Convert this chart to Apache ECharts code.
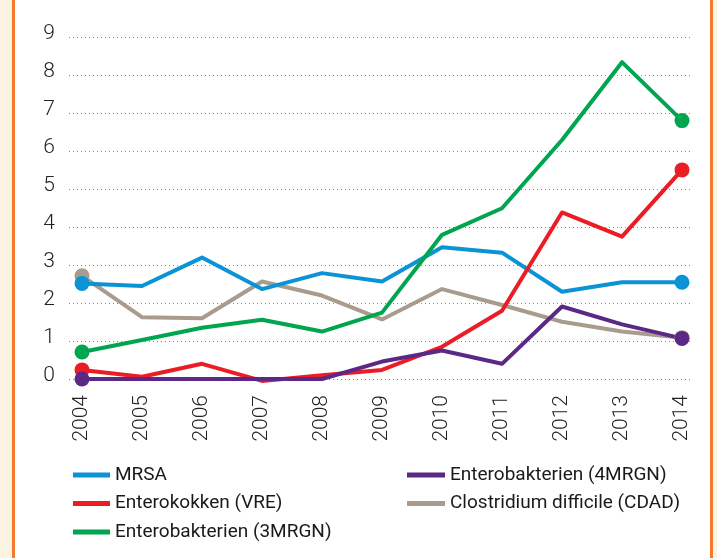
<!DOCTYPE html>
<html>
<head>
<meta charset="utf-8">
<script src="https://cdn.jsdelivr.net/npm/echarts@6/dist/echarts.min.js"></script>
<style>
html,body{margin:0;padding:0;background:#fff;}
#chart{width:717px;height:558px;}
</style>
</head>
<body>
<div id="chart"></div>
<script>
const years = ['2004','2005','2006','2007','2008','2009','2010','2011','2012','2013','2014'];
const mrsa  = [2.52, 2.45, 3.20, 2.37, 2.79, 2.57, 3.47, 3.33, 2.30, 2.55, 2.55];
const vre   = [0.24, 0.06, 0.40, -0.05, 0.10, 0.24, 0.85, 1.80, 4.39, 3.75, 5.51];
const mrgn3 = [0.71, 1.03, 1.35, 1.56, 1.25, 1.75, 3.80, 4.50, 6.30, 8.35, 6.81];
const mrgn4 = [0, 0, 0, 0, 0, 0.46, 0.75, 0.40, 1.91, 1.44, 1.07];
const cdad  = [2.72, 1.63, 1.60, 2.57, 2.20, 1.57, 2.37, 1.95, 1.51, 1.25, 1.09];
const yMin = 0, yMax = 9, yStep = 1;

const names = ['MRSA','Enterokokken (VRE)','Enterobakterien (3MRGN)','Enterobakterien (4MRGN)','Clostridium difficile (CDAD)'];
const colors = {
  'MRSA':'#0a93d5',
  'Enterokokken (VRE)':'#ec1c24',
  'Enterobakterien (3MRGN)':'#00a550',
  'Enterobakterien (4MRGN)':'#5b2885',
  'Clostridium difficile (CDAD)':'#a99b8e'
};
const seriesData = {
  'MRSA': mrsa,
  'Enterokokken (VRE)': vre,
  'Enterobakterien (3MRGN)': mrgn3,
  'Enterobakterien (4MRGN)': mrgn4,
  'Clostridium difficile (CDAD)': cdad
};
// drawing order (bottom to top)
const drawOrder = ['Clostridium difficile (CDAD)','MRSA','Enterokokken (VRE)','Enterobakterien (3MRGN)','Enterobakterien (4MRGN)'];

const chart = echarts.init(document.getElementById('chart'), null, {renderer:'canvas'});
const lastIdx = years.length - 1;
const font = 'Roboto, "Liberation Sans", sans-serif';

const option = {
  backgroundColor:'#ffffff',
  animation:false,
  textStyle:{fontFamily:font},
  graphic:[
    {type:'rect', left:0, top:0, shape:{width:12, height:558}, style:{fill:'#fcf2e1'}, silent:true},
    {type:'rect', left:12, top:0, shape:{width:3, height:558}, style:{fill:'#f47a2e'}, silent:true},
    {type:'rect', left:710, top:0, shape:{width:3, height:558}, style:{fill:'#f47a2e'}, silent:true},
    {type:'rect', left:713, top:0, shape:{width:4, height:558}, style:{fill:'#fcf2e1'}, silent:true}
  ],
  grid:[
    {left:82, right:35, top:37.5, bottom:179, containLabel:false},
    {left:69, right:25, top:37.5, bottom:179, containLabel:false}
  ],
  xAxis:[
    {type:'category', gridIndex:0, data:years, boundaryGap:false,
     axisLine:{show:false}, axisTick:{show:false}, splitLine:{show:false},
     axisLabel:{rotate:90, margin:16, fontSize:21, color:'#222', fontWeight:300, fontFamily:font}},
    {type:'value', gridIndex:1, min:0, max:1, show:false}
  ],
  yAxis:[
    {type:'value', gridIndex:0, min:yMin, max:yMax, interval:yStep, show:false, splitLine:{show:false}},
    {type:'value', gridIndex:1, min:yMin, max:yMax, interval:yStep,
     axisLine:{show:false}, axisTick:{show:false},
     splitLine:{show:true, lineStyle:{color:'#8a8a8a', width:1, type:[1,3]}},
     axisLabel:{margin:14, fontSize:21, color:'#222', fontWeight:300, fontFamily:font,
                verticalAlign:'bottom', lineHeight:7}}
  ],
  legend:[
    {orient:'vertical', left:73, top:465, padding:0, itemGap:8.5, icon:'rect', itemWidth:37, itemHeight:5,
     data:names.slice(0,3), selectedMode:false,
     textStyle:{fontSize:19, color:'#1a1a1a', fontFamily:font, lineHeight:20}},
    {orient:'vertical', left:407, top:465, padding:0, itemGap:8.5, icon:'rect', itemWidth:38, itemHeight:5,
     data:names.slice(3), selectedMode:false,
     textStyle:{fontSize:19, color:'#1a1a1a', fontFamily:font, lineHeight:20}}
  ],
  series: drawOrder.map(function(n){
    return {
      name:n, type:'line', xAxisIndex:0, yAxisIndex:0,
      data: seriesData[n],
      clip:false,
      color: colors[n],
      lineStyle:{width:4, color:colors[n], cap:'round', join:'round'},
      itemStyle:{color:colors[n]},
      symbol:'circle',
      symbolSize:function(v, p){ return (p.dataIndex===0 || p.dataIndex===lastIdx) ? 15 : 0; },
      showSymbol:true,
      emphasis:{disabled:true}
    };
  })
};
chart.setOption(option);
</script>
</body>
</html>
